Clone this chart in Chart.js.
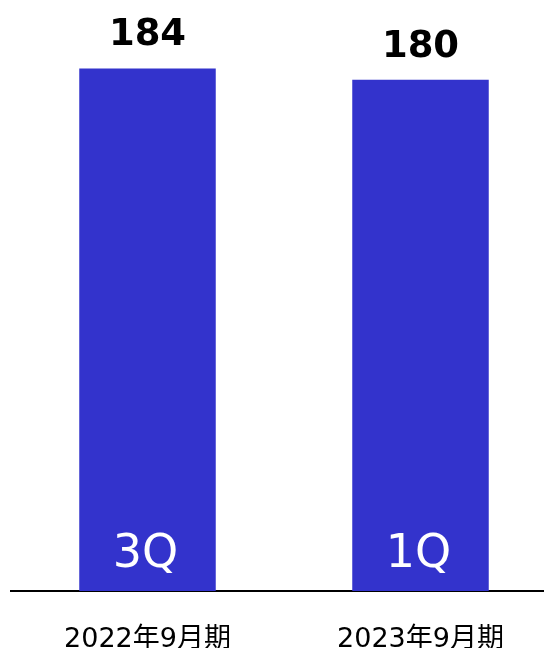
<!DOCTYPE html>
<html>
<head>
<meta charset="utf-8">
<script src="https://cdn.jsdelivr.net/npm/chart.js@4/dist/chart.umd.min.js"></script>
<style>
    html, body { margin: 0; padding: 0; background: #fff; overflow: hidden; }
    #wrap { width: 560px; height: 648px; }
</style>
</head>
<body>
<div id="wrap"><canvas id="SalesChart" width="560" height="648"></canvas></div>
<script>
    // periods and values
    var periods = ['2022年9月期', '2023年9月期'];
    var quarters = ['3Q', '1Q'];
    var values = [184, 180];
    var yMax = 200;

    var barLabels = {
        id: 'barLabels',
        afterDatasetsDraw: function (chart) {
            var ctx = chart.ctx;
            var meta = chart.getDatasetMeta(0);
            ctx.save();
            ctx.textAlign = 'center';
            ctx.textBaseline = 'alphabetic';
            meta.data.forEach(function (bar, i) {
                // value above the bar
                ctx.fillStyle = '#000';
                ctx.font = 'bold 37px "DejaVu Sans", Verdana, sans-serif';
                ctx.fillText(String(values[i]), bar.x, bar.y - 23);
                // quarter inside the bar, near the base
                ctx.fillStyle = '#fff';
                ctx.font = '46px "DejaVu Sans", Verdana, sans-serif';
                ctx.fillText(quarters[i], bar.x - 2, bar.base - 24);
            });
            ctx.restore();
        }
    };

    new Chart(document.getElementById('SalesChart'), {
        type: 'bar',
        data: {
            labels: periods,
            datasets: [
                {
                    data: values,
                    backgroundColor: '#3333CC',
                    borderWidth: 0,
                    barPercentage: 1,
                    categoryPercentage: 0.5
                }
            ]
        },
        options: {
            responsive: false,
            animation: false,
            layout: {
                padding: { left: 11, right: 3, top: 23, bottom: 0 }
            },
            plugins: {
                legend: { display: false },
                tooltip: { enabled: false }
            },
            scales: {
                x: {
                    grid: { display: false, drawTicks: false },
                    border: { display: true, color: '#000', width: 2 },
                    ticks: {
                        color: '#000',
                        padding: 33,
                        font: { family: '"DejaVu Sans", "Noto Sans CJK JP", sans-serif', size: 27 }
                    },
                    afterFit: function (scale) { scale.height = 57; }
                },
                y: {
                    display: false,
                    min: 0,
                    max: yMax
                }
            }
        },
        plugins: [barLabels]
    });
</script>
</body>
</html>
